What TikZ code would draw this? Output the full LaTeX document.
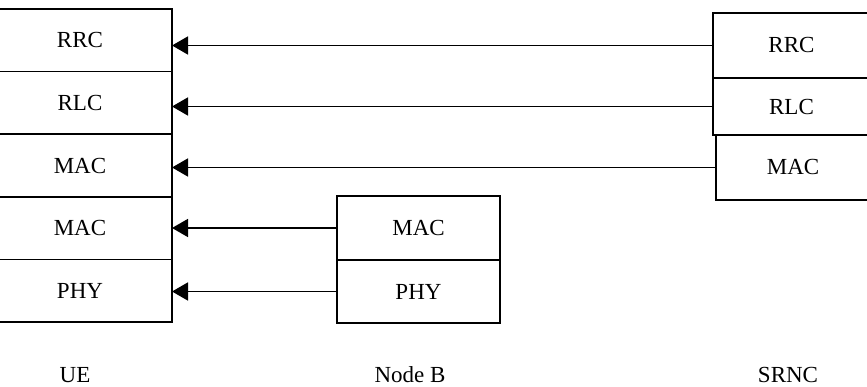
\documentclass[tikz,border=0pt]{standalone}
\usepackage{fontspec}
\setmainfont{Liberation Serif}
\usetikzlibrary{positioning}
\usetikzlibrary{arrows.meta}
\tikzset{layer/.style={rectangle,draw=black,line width=1.7pt,inner sep=0pt,outer sep=0pt,font=\fontsize{23}{27}\selectfont}}
\tikzset{uelayer/.style={layer,minimum width=184pt,minimum height=62.6pt}}
\tikzset{nblayer/.style={layer,minimum width=163pt,minimum height=63.5pt}}
\tikzset{rnclayer/.style={layer,minimum width=157pt,minimum height=#1}}
\tikzset{msg/.style={draw=black,line width=1.7pt,-{Triangle[length=16pt,width=18pt]}}}
\tikzset{entity/.style={font=\fontsize{23}{27}\selectfont,anchor=base}}

\begin{document}
\begin{tikzpicture}[x=1pt,y=-1pt,node distance=0pt]
  \useasboundingbox (0,0) rectangle (867,387);
  \clip (0,0) rectangle (867,387);

  \node [uelayer] (UErrc) at (80,40.3) {RRC};
  \node [uelayer,below=of UErrc] (UErlc) {RLC};
  \node [uelayer,below=of UErlc] (UEmac) {MAC};
  \node [uelayer,below=of UEmac] (UEmacb) {MAC};
  \node [uelayer,below=of UEmacb] (UEphy) {PHY};

  \node [nblayer] (NBmac) at (418.5,228) {MAC};
  \node [nblayer,below=of NBmac] (NBphy) {PHY};

  \node [rnclayer=65pt] (RNCrrc) at (791.5,45.5) {RRC};
  \node [rnclayer=57pt,below=of RNCrrc] (RNCrlc) {RLC};
  \node [rnclayer=65pt,minimum width=154pt] (RNCmac) at (793,167.5) {MAC};

  \draw [msg] (RNCrrc.west) -- (RNCrrc.west -| UErrc.east);
  \draw [msg] (RNCrlc.west) -- (RNCrlc.west -| UErlc.east);
  \draw [msg] (RNCmac.west) -- (RNCmac.west -| UEmac.east);
  \draw [msg] (NBmac.west) -- (NBmac.west -| UEmacb.east);
  \draw [msg] (NBphy.west) -- (NBphy.west -| UEphy.east);

  \node [entity] (UE) at (75,382) {UE};
  \node [entity] (NB) at (410,382) {Node B};
  \node [entity] (SRNC) at (788,382) {SRNC};
\end{tikzpicture}
\end{document}
